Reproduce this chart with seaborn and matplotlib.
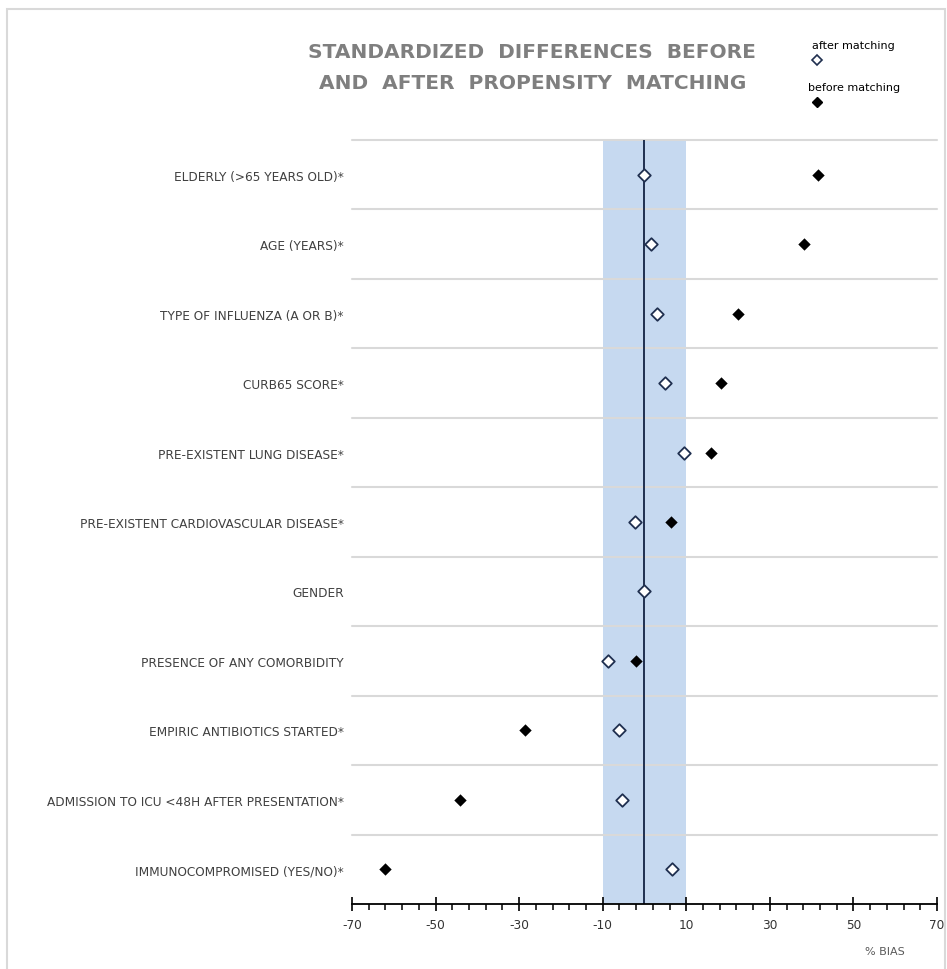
import matplotlib
matplotlib.use("Agg")
import matplotlib.pyplot as plt
from matplotlib.lines import Line2D
from matplotlib.patches import Rectangle
import pandas as pd
import seaborn as sns

# covariates, top to bottom
covariates = [
    "ELDERLY (>65 YEARS OLD)*",
    "AGE (YEARS)*",
    "TYPE OF INFLUENZA (A OR B)*",
    "CURB65 SCORE*",
    "PRE-EXISTENT LUNG DISEASE*",
    "PRE-EXISTENT CARDIOVASCULAR DISEASE*",
    "GENDER",
    "PRESENCE OF ANY COMORBIDITY",
    "EMPIRIC ANTIBIOTICS STARTED*",
    "ADMISSION TO ICU <48H AFTER PRESENTATION*",
    "IMMUNOCOMPROMISED (YES/NO)*",
]
before_matching = [41.5, 38.2, 22.3, 18.3, 15.9, 6.3, 0.0, -2.1, -28.5, -44.1, -62.1]
after_matching = [0.0, 1.5, 2.9, 5.0, 9.4, -2.3, 0.0, -8.7, -6.0, -5.5, 6.7]
x_ticks = [-70, -50, -30, -10, 10, 30, 50, 70]
balance_band = (-10, 10)

df = pd.DataFrame({
    "covariate": covariates * 2,
    "bias": before_matching + after_matching,
    "phase": ["before matching"] * len(covariates) + ["after matching"] * len(covariates),
})

sns.set_style("white")
plt.rcParams["font.family"] = ["DejaVu Sans"]
plt.rcParams["axes.unicode_minus"] = False

fig = plt.figure(figsize=(9.47, 9.70), dpi=100)
ax = fig.add_axes([0.3717, 0.067, 0.6177, 0.7876])

ax.axvspan(*balance_band, color="#c6d9f0", zorder=0, lw=0)
for i in range(len(covariates)):
    ax.axhline(i - 0.5, color="#d9d9d9", lw=1.5, zorder=0.5, clip_on=False)
ax.axvline(0, color="#1f2f4f", lw=1.4, zorder=1)

sns.stripplot(data=df[df.phase == "before matching"], x="bias", y="covariate",
              order=covariates, jitter=False, marker="D", size=6.3,
              color="black", linewidth=0, ax=ax, zorder=3)
sns.stripplot(data=df[df.phase == "after matching"], x="bias", y="covariate",
              order=covariates, jitter=False, marker="D", size=6.4,
              color="white", edgecolor="#1f2f4f", linewidth=1.3, ax=ax, zorder=4)

ax.set_xlim(-70, 70)
ax.set_ylim(len(covariates) - 0.5, -0.5)
ax.set_xticks(x_ticks)
ax.set_xticks(list(range(-70, 71, 4)), minor=True)
ax.tick_params(axis="x", which="major", direction="inout", length=10, width=1.2,
               color="black", labelsize=8.7, labelcolor="#333333", pad=5, bottom=True)
ax.tick_params(axis="x", which="minor", direction="out", length=4, width=1.1,
               color="black", bottom=True)
ax.tick_params(axis="y", length=0, labelsize=8.7, labelcolor="#404040", pad=6)
ax.set_xlabel("")
ax.set_ylabel("")
for side in ["left", "right", "top"]:
    ax.spines[side].set_visible(False)
ax.spines["bottom"].set_color("black")
ax.spines["bottom"].set_linewidth(1.3)

fig.text(0.562, 0.930, "STANDARDIZED  DIFFERENCES  BEFORE\nAND  AFTER  PROPENSITY  MATCHING",
         ha="center", va="center", fontsize=14.5, fontweight="bold", color="#7f7f7f",
         linespacing=1.75)
fig.text(0.934, 0.019, "% BIAS", ha="center", va="center", fontsize=8, color="#595959")

# legend (stacked marker under label)
fig.text(0.857, 0.953, "after matching", ha="left", va="center", fontsize=8, color="black")
fig.add_artist(Line2D([0.863], [0.937], transform=fig.transFigure, marker="D", ms=5.5,
                      mfc="white", mec="#1f2f4f", mew=1.2, ls=""))
fig.text(0.853, 0.909, "before matching", ha="left", va="center", fontsize=8, color="black")
fig.add_artist(Line2D([0.863], [0.894], transform=fig.transFigure, marker="D", ms=5,
                      mfc="black", mec="black", ls=""))

# thin frame around the chart area
fig.add_artist(Rectangle((0.0074, -0.01), 0.9905, 1.0 - 0.0103 + 0.01, transform=fig.transFigure,
                         fill=False, ec="#d9d9d9", lw=1.5))

fig.savefig("out.png", dpi=100)
